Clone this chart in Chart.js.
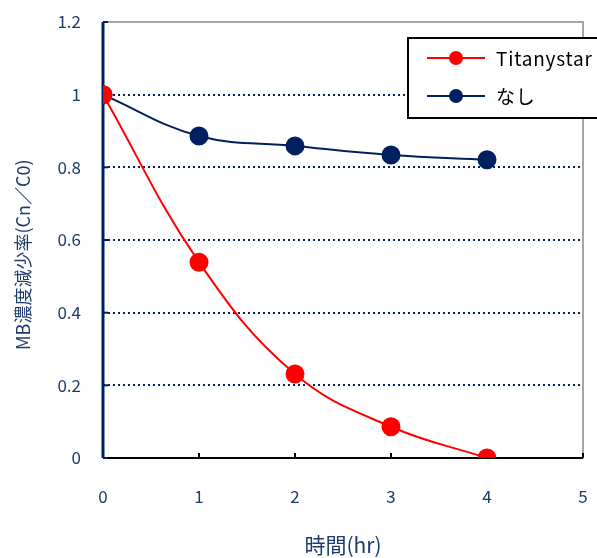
<!DOCTYPE html>
<html><head><meta charset="utf-8">
<script src="https://cdn.jsdelivr.net/npm/chart.js@4"></script>
<style>html,body{margin:0;padding:0;background:#fff}#wrap{width:597px;height:558px}</style>
</head><body><div id="wrap"><canvas id="c" width="597" height="558"></canvas></div>
<script>
const hours = [0, 1, 2, 3, 4];
const titanystar = [1.0, 0.539, 0.231, 0.086, 0.0];
const nashi = [1.0, 0.886, 0.859, 0.834, 0.821];
const seriesNames = ['Titanystar', 'なし'];
const xTitle = '時間(hr)';
const yTitle = 'MB濃度減少率(Cn／C0)';
const NAVY = '#002060';
const LABEL = '#1F3B6B';
const FONT = "'Noto Sans CJK JP', 'Noto Sans', sans-serif";

const frame = {
  id: 'frame',
  beforeDatasetsDraw(chart) {
    const {ctx, chartArea: a, scales: {x, y}} = chart;
    ctx.save();
    ctx.strokeStyle = '#A6A6A6'; ctx.lineWidth = 2;
    ctx.beginPath(); ctx.moveTo(a.left, a.top); ctx.lineTo(a.right, a.top); ctx.lineTo(a.right, a.bottom); ctx.stroke();
    ctx.strokeStyle = '#000'; ctx.lineWidth = 2;
    ctx.beginPath(); ctx.moveTo(a.left, a.bottom); ctx.lineTo(a.right, a.bottom); ctx.stroke();
    for (let v = 1; v <= 5; v++) {
      const px = x.getPixelForValue(v);
      ctx.beginPath(); ctx.moveTo(px, a.bottom); ctx.lineTo(px, a.bottom - 5); ctx.stroke();
    }
    ctx.strokeStyle = NAVY; ctx.lineWidth = 3;
    ctx.beginPath(); ctx.moveTo(a.left, a.top); ctx.lineTo(a.left, a.bottom); ctx.stroke();
    ctx.lineWidth = 2;
    for (let i = 0; i <= 6; i++) {
      const py = y.getPixelForValue(i * 0.2);
      ctx.beginPath(); ctx.moveTo(a.left, py); ctx.lineTo(a.left + 5, py); ctx.stroke();
    }
    // y title
    ctx.save();
    ctx.fillStyle = LABEL;
    ctx.font = '18px ' + FONT;
    const w = ctx.measureText(yTitle).width;
    ctx.translate(23, 350);
    ctx.rotate(-Math.PI / 2);
    ctx.textAlign = 'left'; ctx.textBaseline = 'middle';
    ctx.fillText(yTitle, (w > 0 ? 0 : 0), 0);
    ctx.restore();
    ctx.restore();
  },
  afterDraw(chart) {
    const {ctx} = chart;
    ctx.save();
    const L = 408, T = 38, B = 118;
    ctx.fillStyle = '#fff';
    ctx.fillRect(L, T, 597 - L + 5, B - T);
    ctx.strokeStyle = '#000'; ctx.lineWidth = 2;
    ctx.strokeRect(L, T, 597 - L + 5, B - T);
    chart.data.datasets.forEach((ds, i) => {
      const cy = 58 + i * 38;
      ctx.strokeStyle = ds.borderColor; ctx.lineWidth = 2;
      ctx.beginPath(); ctx.moveTo(427, cy); ctx.lineTo(485, cy); ctx.stroke();
      ctx.fillStyle = ds.backgroundColor;
      ctx.beginPath(); ctx.arc(456, cy, 7, 0, Math.PI * 2); ctx.fill();
      ctx.fillStyle = '#000';
      ctx.font = '19px ' + FONT;
      ctx.letterSpacing = '0.8px';
      ctx.textBaseline = 'middle'; ctx.textAlign = 'left';
      ctx.fillText(ds.label, 496, cy + 1);
    });
    ctx.restore();
  }
};

new Chart(document.getElementById('c'), {
  type: 'line',
  data: {
    datasets: [
      {label: seriesNames[0], data: hours.map((h, i) => ({x: h, y: titanystar[i]})),
       borderColor: '#FF0000', backgroundColor: '#FF0000', pointBackgroundColor: '#FF0000', pointBorderColor: '#FF0000',
       borderWidth: 2, pointRadius: 8.5, tension: 0.4, cubicInterpolationMode: 'default'},
      {label: seriesNames[1], data: hours.map((h, i) => ({x: h, y: nashi[i]})),
       borderColor: NAVY, backgroundColor: NAVY, pointBackgroundColor: NAVY, pointBorderColor: NAVY,
       borderWidth: 2, pointRadius: 8.5, tension: 0.4, cubicInterpolationMode: 'default'}
    ]
  },
  options: {
    responsive: false, animation: false, devicePixelRatio: 1,
    layout: {padding: {left: 0, right: 14, top: 22, bottom: 0}},
    plugins: {legend: {display: false}, tooltip: {enabled: false}},
    scales: {
      x: {
        type: 'linear', min: 0, max: 5,
        ticks: {stepSize: 1, color: LABEL, font: {size: 17, family: FONT}, padding: 28},
        grid: {display: false, drawTicks: false},
        border: {display: false},
        title: {display: true, text: xTitle, color: LABEL, font: {size: 21, family: FONT}, padding: {top: 20, bottom: 0}},
        afterFit(s) { s.height = 100; s.paddingLeft = 0; s.paddingRight = 0; }
      },
      y: {
        min: 0, max: 1.2,
        ticks: {stepSize: 0.2, color: LABEL, font: {size: 17, family: FONT}, padding: 22,
                callback: v => String(Number(v.toFixed(1)))},
        grid: {drawTicks: false, lineWidth: 2, borderDash: [2, 3],
               color: c => (c.tick && (c.tick.value === 0 || Math.abs(c.tick.value - 1.2) < 1e-6)) ? 'rgba(0,0,0,0)' : NAVY},
        border: {display: false, dash: [2, 3]},
        title: {display: false},
        afterFit(s) { s.width = 103; s.paddingTop = 0; s.paddingBottom = 0; }
      }
    }
  },
  plugins: [frame]
});
</script></body></html>
